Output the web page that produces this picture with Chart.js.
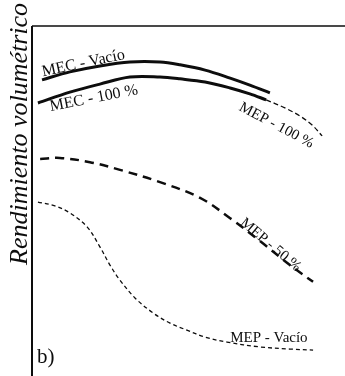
<!DOCTYPE html>
<html>
<head>
<meta charset="utf-8">
<script src="https://cdn.jsdelivr.net/npm/chart.js@4.4.0/dist/chart.umd.min.js"></script>
<style>
  html, body { margin: 0; padding: 0; background: #fff; }
  #wrap { width: 345px; height: 376px; position: relative; }
</style>
</head>
<body>
<div id="wrap"><canvas id="chart"></canvas></div>
<script>
// x = engine speed, y = volumetric efficiency (both unitless, 0-100 of the frame)
const mecVacioX = [3.2, 12.1, 21.7, 31.3, 40.9, 47.3, 55.3, 63.3, 69.6, 76.0];
const mecVacioY = [84.6, 86.9, 88.6, 89.7, 89.7, 88.9, 87.4, 85.1, 83.1, 80.9];

const mec100X = [1.9, 12.1, 21.7, 31.3, 40.9, 47.3, 55.3, 63.3, 69.6, 74.8];
const mec100Y = [78.0, 81.1, 83.4, 85.4, 85.4, 84.9, 84.0, 82.3, 80.6, 78.9];

const mep100X = [74.8, 80.8, 85.6, 89.5, 92.7];
const mep100Y = [78.9, 76.6, 74.3, 71.7, 68.6];

const mep50X = [2.6, 8.9, 18.5, 28.1, 40.9, 53.7, 63.3, 72.8, 82.4, 89.8];
const mep50Y = [62.0, 62.3, 61.1, 58.9, 55.4, 50.9, 45.1, 38.6, 31.7, 26.9];

const mepVacioX = [1.9, 7.3, 12.1, 17.6, 21.7, 24.9, 28.1, 32.9, 38.7, 44.1, 49.5, 55.3, 62.3, 72.8, 82.4, 89.8];
const mepVacioY = [49.7, 48.6, 46.6, 42.6, 36.9, 31.7, 27.4, 22.3, 18.0, 15.1, 13.1, 11.1, 9.7, 8.3, 7.7, 7.4];

const INK = '#0d0d0d';
const SERIF = '"Liberation Serif", "DejaVu Serif", serif';

const zip = (xs, ys) => xs.map((x, i) => ({ x, y: ys[i] }));

const curve = (label, xs, ys, width, dash) => ({
  label,
  data: zip(xs, ys),
  borderColor: INK,
  borderWidth: width,
  borderDash: dash,
  pointRadius: 0,
  tension: 0.35,
  fill: false,
});

// curve labels, anchored in data units
const notes = [
  { text: 'MEC - Vacío', x: 3.2, y: 86.8, angle: -12, size: 16 },
  { text: 'MEC - 100 %', x: 5.75, y: 76.9, angle: -11, size: 16 },
  { text: 'MEP - 100 %', x: 66.5, y: 77.1, angle: 28, size: 15 },
  { text: 'MEP - 50 %', x: 67.1, y: 44.3, angle: 40, size: 15 },
  { text: 'MEP - Vacío', x: 63.3, y: 10.9, angle: 0, size: 15 },
  { text: 'b)', x: 1.6, y: 5.4, angle: 0, size: 21 },
];

const paper = {
  id: 'paper',
  afterDraw(chart) {
    const { ctx, chartArea: a, scales } = chart;
    ctx.save();
    ctx.strokeStyle = INK;
    ctx.lineWidth = 2;
    ctx.beginPath();
    ctx.moveTo(a.left, a.bottom);
    ctx.lineTo(a.left, a.top);
    ctx.stroke();
    ctx.lineWidth = 1.5;
    ctx.beginPath();
    ctx.moveTo(a.left, a.top);
    ctx.lineTo(a.right, a.top);
    ctx.stroke();

    ctx.fillStyle = INK;
    notes.forEach((n) => {
      ctx.save();
      ctx.translate(scales.x.getPixelForValue(n.x), scales.y.getPixelForValue(n.y));
      ctx.rotate(n.angle * Math.PI / 180);
      ctx.font = `${n.size}px ${SERIF}`;
      ctx.textAlign = 'left';
      ctx.textBaseline = 'middle';
      ctx.fillText(n.text, 0, 0);
      ctx.restore();
    });

    // axis title
    ctx.translate(a.left - 5, 265);
    ctx.rotate(-Math.PI / 2);
    ctx.font = `italic 26px ${SERIF}`;
    ctx.textAlign = 'left';
    ctx.textBaseline = 'alphabetic';
    ctx.fillText('Rendimiento volumétrico', 0, 0);
    ctx.restore();
  },
};

new Chart(document.getElementById('chart'), {
  type: 'line',
  data: {
    datasets: [
      curve('MEC - Vacío', mecVacioX, mecVacioY, 3, []),
      curve('MEC - 100 %', mec100X, mec100Y, 3, []),
      curve('MEP - 100 %', mep100X, mep100Y, 1.3, [5, 3]),
      curve('MEP - 50 %', mep50X, mep50Y, 2.5, [9, 6]),
      curve('MEP - Vacío', mepVacioX, mepVacioY, 1.3, [4, 3]),
    ],
  },
  options: {
    responsive: true,
    maintainAspectRatio: false,
    animation: false,
    layout: { padding: { left: 32, top: 26, right: 0, bottom: 0 } },
    scales: {
      x: { type: 'linear', min: 0, max: 100, display: false },
      y: { type: 'linear', min: 0, max: 100, display: false },
    },
    plugins: { legend: { display: false }, tooltip: { enabled: false } },
  },
  plugins: [paper],
});
</script>
</body>
</html>
